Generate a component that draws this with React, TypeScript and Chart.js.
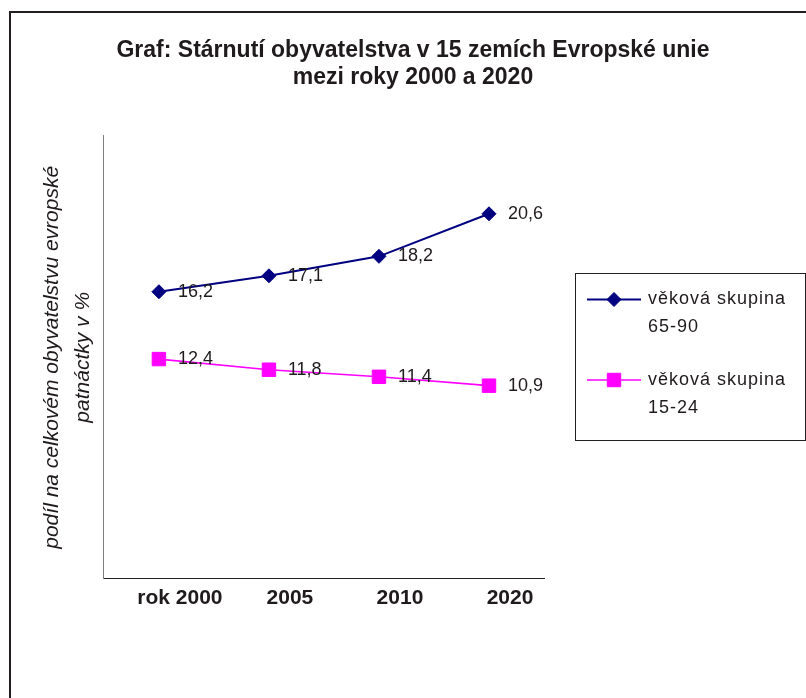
import React, { useEffect, useRef } from 'react';
import { Chart, registerables } from 'chart.js';
import { drawPoint } from 'chart.js/helpers';

Chart.register(...registerables);

// ---- data ----
const categories = ['rok 2000', '2005', '2010', '2020'];
const seniors = [16.2, 17.1, 18.2, 20.6];
const youth = [12.4, 11.8, 11.4, 10.9];
const seriesNames = ['věková skupina 65-90', 'věková skupina 15-24'];
const titleLines = ['Graf: Stárnutí obyvatelstva v 15 zemích Evropské unie', 'mezi roky 2000 a 2020'];
const yTitleLines = ['podíl na celkovém obyvatelstvu evropské', 'patnáctky v %'];
const yMin = 0;
const yMax = 25;

const FONT = "'Liberation Sans', Arial, Helvetica, sans-serif";
const TEXT = '#1f1a1b';
const NAVY = '#000080';
const MAGENTA = '#ff00ff';

const framePlugin = {
  id: 'frame',
  beforeDraw(chart: any) {
    const ctx = chart.ctx;
    ctx.save();
    ctx.fillStyle = '#ffffff';
    ctx.fillRect(0, 0, chart.width, chart.height);
    ctx.fillStyle = '#231f20';
    ctx.fillRect(9, 11, 2, chart.height - 11);
    ctx.fillRect(9, 11, chart.width - 9, 2);
    ctx.restore();
  },
};

const valueLabelsPlugin = {
  id: 'valueLabels',
  afterDatasetsDraw(chart: any) {
    const ctx = chart.ctx;
    ctx.save();
    ctx.font = `18px ${FONT}`;
    ctx.fillStyle = TEXT;
    ctx.textAlign = 'left';
    ctx.textBaseline = 'middle';
    chart.data.datasets.forEach((ds: any, i: number) => {
      const meta = chart.getDatasetMeta(i);
      meta.data.forEach((pt: any, j: number) => {
        const txt = Number(ds.data[j]).toFixed(1).replace('.', ',');
        ctx.fillText(txt, pt.x + 19, pt.y);
      });
    });
    ctx.restore();
  },
};

const boxLegendPlugin = {
  id: 'boxLegend',
  afterDraw(chart: any) {
    const ctx = chart.ctx;
    const left = 575.5;
    const top = 273.5;
    ctx.save();
    ctx.strokeStyle = '#231f20';
    ctx.lineWidth = 1;
    ctx.strokeRect(left, top, 230, 167);
    ctx.font = `18px ${FONT}`;
    (ctx as any).letterSpacing = '1px';
    ctx.fillStyle = TEXT;
    ctx.textAlign = 'left';
    ctx.textBaseline = 'middle';
    chart.data.datasets.forEach((ds: any, i: number) => {
      const y = 299.5 + i * 80.5;
      ctx.strokeStyle = ds.borderColor;
      ctx.lineWidth = ds.borderWidth;
      ctx.beginPath();
      ctx.moveTo(587, y);
      ctx.lineTo(641, y);
      ctx.stroke();
      ctx.fillStyle = ds.pointBackgroundColor;
      ctx.strokeStyle = ds.pointBorderColor;
      ctx.lineWidth = 1;
      drawPoint(ctx, { pointStyle: ds.pointStyle, radius: ds.pointRadius, rotation: 0, borderWidth: 1 }, 614, y);
      const label: string = ds.label;
      const k = label.lastIndexOf(' ');
      ctx.fillStyle = TEXT;
      ctx.fillText(label.slice(0, k), 648, y);
      ctx.fillText(label.slice(k + 1), 648, y + 28);
    });
    ctx.restore();
  },
};

export default function App() {
  const ref = useRef<HTMLCanvasElement | null>(null);

  useEffect(() => {
    if (!ref.current) return;
    const chart = new Chart(ref.current, {
      type: 'line',
      data: {
        labels: categories,
        datasets: [
          {
            label: seriesNames[0],
            data: seniors,
            borderColor: NAVY,
            backgroundColor: NAVY,
            borderWidth: 2,
            pointStyle: 'rectRot',
            pointRadius: 7,
            pointBackgroundColor: NAVY,
            pointBorderColor: NAVY,
            pointBorderWidth: 1,
            tension: 0,
          },
          {
            label: seriesNames[1],
            data: youth,
            borderColor: MAGENTA,
            backgroundColor: MAGENTA,
            borderWidth: 1.6,
            pointStyle: 'rect',
            pointRadius: 9.5,
            pointBackgroundColor: MAGENTA,
            pointBorderColor: MAGENTA,
            pointBorderWidth: 1,
            tension: 0,
          },
        ],
      },
      options: {
        responsive: false,
        animation: false,
        events: [],
        layout: { padding: { left: 20, right: 0, top: 0, bottom: 80 } },
        plugins: {
          legend: { display: false },
          tooltip: { enabled: false },
          title: {
            display: true,
            text: titleLines,
            color: TEXT,
            font: { family: FONT, size: 23, weight: 'bold', lineHeight: 1.17 },
            padding: { top: 37, bottom: 45 },
          },
        },
        scales: {
          x: {
            type: 'category',
            offset: true,
            grid: { display: false, drawTicks: false },
            border: { display: true, color: '#231f20', width: 1 },
            ticks: {
              color: TEXT,
              font: { family: FONT, size: 21, weight: 'bold' },
              padding: 7,
              labelOffset: 21,
              maxRotation: 0,
              autoSkip: false,
            },
          },
          y: {
            type: 'linear',
            position: 'left',
            min: yMin,
            max: yMax,
            grid: { display: false, drawTicks: false },
            border: { display: true, color: '#808080', width: 1 },
            ticks: { display: false },
            title: {
              display: true,
              text: yTitleLines,
              color: TEXT,
              font: { family: FONT, size: 21, style: 'italic', lineHeight: 1.45 },
              padding: { top: 17, bottom: 6 },
            },
          },
          yRight: {
            type: 'linear',
            position: 'right',
            display: true,
            min: 0,
            max: 1,
            grid: { display: false, drawTicks: false },
            border: { display: false },
            ticks: { display: false },
            afterFit: (s: any) => {
              s.width = 262;
            },
          },
        },
      },
      plugins: [framePlugin, valueLabelsPlugin, boxLegendPlugin],
    } as any);
    return () => chart.destroy();
  }, []);

  return (
    <div style={{ position: 'fixed', left: 0, top: 0, width: 806, height: 698, background: '#fff' }}>
      <canvas ref={ref} width={806} height={698} style={{ display: 'block' }} />
    </div>
  );
}
